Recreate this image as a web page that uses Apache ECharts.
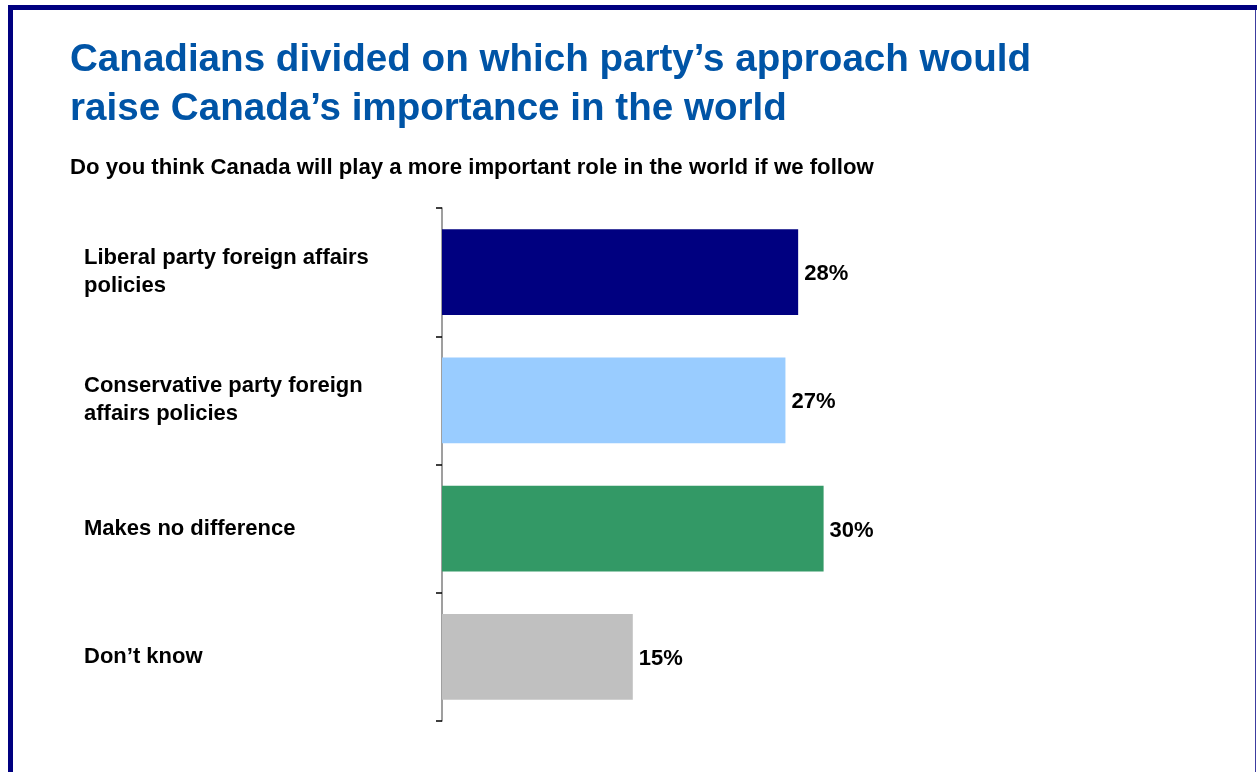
<!DOCTYPE html>
<html>
<head>
<meta charset="utf-8">
<script src="https://cdn.jsdelivr.net/npm/echarts@6/dist/echarts.min.js"></script>
<style>
html,body{margin:0;padding:0;background:#fff;}
#chart{width:1257px;height:772px;}
</style>
</head>
<body>
<div id="chart"></div>
<script>
const titleLines = ["Canadians divided on which party\u2019s approach would", "raise Canada\u2019s importance in the world"];
const subtitle = "Do you think Canada will play a more important role in the world if we follow";
const categories = ["Liberal party foreign affairs policies", "Conservative party foreign affairs policies", "Makes no difference", "Don\u2019t know"];
const values = [28, 27, 30, 15];
const barColors = ["#000080", "#99CCFF", "#339966", "#C0C0C0"];

const FONT = '"Liberation Sans", Arial, Helvetica, sans-serif';
const chart = echarts.init(document.getElementById('chart'), null, {renderer: 'canvas'});

chart.setOption({
  backgroundColor: '#ffffff',
  animation: false,
  textStyle: {fontFamily: FONT},
  grid: {left: 442, top: 208, width: 636, height: 513, containLabel: false},
  xAxis: {
    type: 'value', min: 0, max: 50, show: false
  },
  yAxis: {
    type: 'category',
    inverse: true,
    data: categories,
    axisLine: {show: true, lineStyle: {color: '#7f7f7f', width: 1.5}},
    axisTick: {show: true, length: 6, lineStyle: {color: '#000000', width: 1.5}},
    axisLabel: {
      align: 'left', margin: 358, color: '#000000', fontFamily: FONT,
      fontWeight: 'bold', fontSize: 22, lineHeight: 28, width: 300, overflow: 'break'
    },
    splitLine: {show: false}
  },
  series: [{
    type: 'bar',
    barCategoryGap: '33%',
    data: values.map((v, i) => ({value: v, itemStyle: {color: barColors[i]}})),
    label: {
      show: true, position: 'right', distance: 6, offset: [0, 2],
      formatter: p => p.value + '%',
      color: '#000000', fontWeight: 'bold', fontSize: 22, fontFamily: FONT
    }
  }],
  graphic: [
    {type: 'rect', shape: {x: 8, y: 5, width: 1249, height: 5}, style: {fill: '#000080'}, silent: true},
    {type: 'rect', shape: {x: 8, y: 5, width: 5, height: 767}, style: {fill: '#000080'}, silent: true},
    {type: 'line', shape: {x1: 1255.5, y1: 10, x2: 1255.5, y2: 772}, style: {stroke: '#3c3ca0', lineWidth: 1}, silent: true},
    {type: 'text', left: 70, top: 41, style: {text: titleLines[0], fill: '#0054A6', font: 'bold 38.6px ' + FONT}},
    {type: 'text', left: 70, top: 90, style: {text: titleLines[1], fill: '#0054A6', font: 'bold 38.6px ' + FONT}},
    {type: 'text', left: 70, top: 157, style: {text: subtitle, fill: '#000000', font: 'bold 22.2px ' + FONT}}
  ]
});
</script>
</body>
</html>
